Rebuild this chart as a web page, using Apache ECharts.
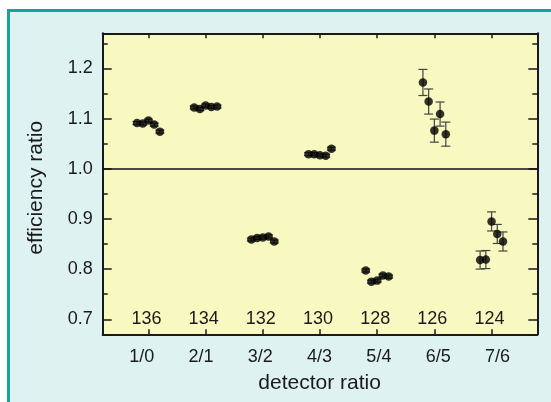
<!DOCTYPE html>
<html><head><meta charset="utf-8">
<script src="https://cdn.jsdelivr.net/npm/echarts@6/dist/echarts.min.js"></script>
<style>
html,body{margin:0;padding:0;background:#fff;overflow:hidden;width:551px;height:402px;position:relative}
#frame{position:absolute;left:7px;top:9px;width:600px;height:450px;border:3px solid #17a2a0;background:#dff2f2}
#c{position:absolute;left:0;top:0;width:551px;height:402px}
</style>
</head><body><div id="frame"></div><div id="c"></div>
<script>
const categories = ['1/0', '2/1', '3/2', '4/3', '5/4', '6/5', '7/6'];
const masses = [136, 134, 132, 130, 128, 126, 124];
const offsets = [-0.2, -0.1, 0, 0.1, 0.2];
const ratio10 = [1.091, 1.090, 1.096, 1.088, 1.074];
const ratio21 = [1.122, 1.119, 1.126, 1.123, 1.124];
const ratio32 = [0.859, 0.862, 0.863, 0.865, 0.855];
const ratio43 = [1.029, 1.029, 1.027, 1.026, 1.040];
const ratio54 = [0.797, 0.775, 0.777, 0.787, 0.785];
const ratio65 = [1.172, 1.134, 1.076, 1.109, 1.069];
const ratio76 = [0.818, 0.819, 0.895, 0.870, 0.855];
const err10 = [0.003, 0.003, 0.003, 0.003, 0.003];
const err21 = [0.003, 0.003, 0.003, 0.003, 0.003];
const err32 = [0.003, 0.003, 0.003, 0.003, 0.003];
const err43 = [0.003, 0.003, 0.003, 0.003, 0.003];
const err54 = [0.003, 0.003, 0.003, 0.003, 0.003];
const err65 = [0.026, 0.025, 0.023, 0.024, 0.024];
const err76 = [0.018, 0.018, 0.019, 0.019, 0.019];

const groups = [ratio10, ratio21, ratio32, ratio43, ratio54, ratio65, ratio76];
const errs = [err10, err21, err32, err43, err54, err65, err76];
const points = [];
groups.forEach((vals, gi) => vals.forEach((v, pi) => points.push([gi + 1 + offsets[pi], v, errs[gi][pi]])));
const massData = masses.map((m, i) => [i + 1, 0.7, m]);

const FONT = 'Liberation Sans, Arial, sans-serif';
const AX = '#1a1a1a';
const lineStyle = { color: AX, width: 2 };

const chart = echarts.init(document.getElementById('c'), null, { renderer: 'canvas' });
chart.setOption({
  backgroundColor: 'transparent',
  animation: false,
  grid: [
    { left: 102.7, right: 13.7, top: 33.3, bottom: 67.7, show: true, backgroundColor: '#f8f9c0', borderWidth: 0 },
    { left: 112, right: 23.85, top: 33.3, bottom: 67.7, show: false }
  ],
  xAxis: [
    { type: 'value', gridIndex: 0, min: 0.2, max: 7.8, minInterval: 1, maxInterval: 1, splitNumber: 7, position: 'bottom',
      axisLine: { show: true, onZero: false, lineStyle }, axisTick: { show: true, inside: true, length: 5, lineStyle: { color: AX, width: 1.5 } },
      axisLabel: { show: false }, splitLine: { show: false } },
    { type: 'value', gridIndex: 0, min: 0.2, max: 7.8, minInterval: 1, maxInterval: 1, splitNumber: 7, position: 'top',
      axisLine: { show: true, onZero: false, lineStyle }, axisTick: { show: true, inside: true, length: 5, lineStyle: { color: AX, width: 1.5 } },
      axisLabel: { show: false }, splitLine: { show: false } },
    { type: 'category', gridIndex: 1, data: categories, position: 'bottom',
      axisLine: { show: false }, axisTick: { show: false },
      axisLabel: { margin: 14, fontSize: 18, color: AX, fontFamily: FONT },
      name: 'detector ratio', nameLocation: 'middle', nameGap: 38,
      nameTextStyle: { fontSize: 21, color: AX, fontFamily: FONT } }
  ],
  yAxis: [
    { type: 'value', gridIndex: 0, min: 0.67, max: 1.27, minInterval: 0.1, maxInterval: 0.1, splitNumber: 6, position: 'left',
      axisLine: { show: true, onZero: false, lineStyle }, axisTick: { show: true, inside: true, length: 9, lineStyle: { color: AX, width: 1.5 } },
      minorTick: { show: true, splitNumber: 2, length: 5, lineStyle: { color: AX, width: 1.5 } },
      axisLabel: { margin: 10, fontSize: 18, color: AX, fontFamily: FONT, showMinLabel: false, showMaxLabel: false,
        formatter: v => (Math.abs(v - Math.round(v * 10) / 10) < 1e-6 ? v.toFixed(1) : '') },
      splitLine: { show: false }, minorSplitLine: { show: false },
      name: 'efficiency ratio', nameLocation: 'middle', nameGap: 56,
      nameTextStyle: { fontSize: 21, color: AX, fontFamily: FONT, padding: [0, 8, 0, 0] } },
    { type: 'value', gridIndex: 0, min: 0.67, max: 1.27, minInterval: 0.1, maxInterval: 0.1, splitNumber: 6, position: 'right',
      axisLine: { show: true, onZero: false, lineStyle }, axisTick: { show: true, inside: true, length: 9, lineStyle: { color: AX, width: 1.5 } },
      minorTick: { show: true, splitNumber: 2, length: 5, lineStyle: { color: AX, width: 1.5 } },
      axisLabel: { show: false }, splitLine: { show: false } },
    { type: 'value', gridIndex: 1, show: false }
  ],
  series: [
    { type: 'custom', xAxisIndex: 0, yAxisIndex: 0, data: points, encode: { x: 0, y: 1 }, z: 2,
      renderItem: (params, api) => {
        const x = api.value(0), y = api.value(1), e = api.value(2);
        const t = api.coord([x, y + e]), b = api.coord([x, y - e]);
        const hw = 4.5;
        const style = { stroke: '#444', lineWidth: 1.2 };
        return { type: 'group', children: [
          { type: 'line', shape: { x1: t[0], y1: t[1], x2: b[0], y2: b[1] }, style },
          { type: 'line', shape: { x1: t[0] - hw, y1: t[1], x2: t[0] + hw, y2: t[1] }, style },
          { type: 'line', shape: { x1: b[0] - hw, y1: b[1], x2: b[0] + hw, y2: b[1] }, style }
        ] };
      } },
    { type: 'scatter', xAxisIndex: 0, yAxisIndex: 0, data: points, symbolSize: 8.5, z: 3,
      itemStyle: { color: '#000' },
      markLine: { silent: true, symbol: 'none', animation: false, label: { show: false },
        lineStyle: { color: '#111', width: 1.5, type: 'solid' }, data: [{ yAxis: 1.0 }] } },
    { type: 'scatter', xAxisIndex: 0, yAxisIndex: 0, data: massData, symbolSize: 0, z: 4, silent: true,
      itemStyle: { color: '#000' },
      label: { show: true, position: 'inside', offset: [-2, 0], formatter: p => String(p.data[2]),
        fontSize: 18, color: AX, fontFamily: FONT, textBorderWidth: 0, opacity: 1 } }
  ]
});
</script>
</body></html>
